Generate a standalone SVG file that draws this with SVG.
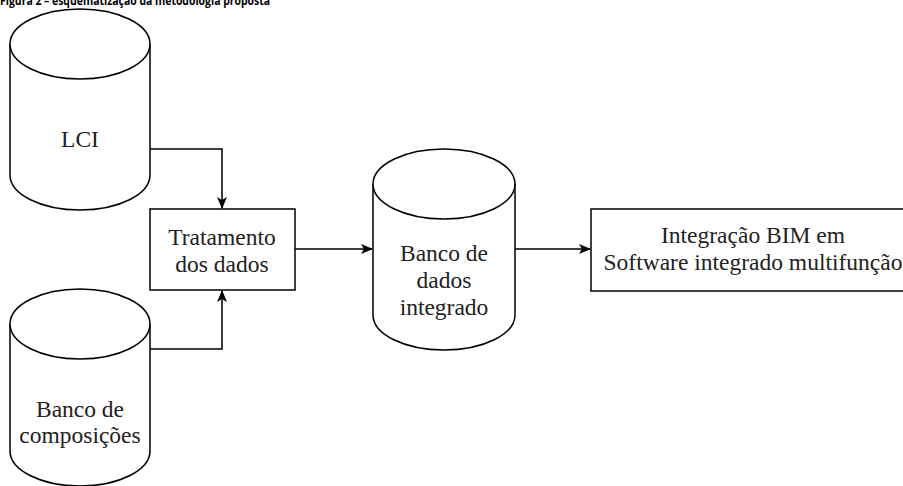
<svg xmlns="http://www.w3.org/2000/svg" width="903" height="486" viewBox="0 0 903 486">
  <style>
    .shape { fill: #ffffff; stroke: #000000; stroke-width: 1.5; }
    .label { font-family: "Liberation Serif", "Times New Roman", serif; font-size: 23.5px; fill: #222222; text-anchor: middle; }
    .title { font-family: "Open Sans", "Liberation Sans", sans-serif; font-size: 12px; font-weight: bold; fill: #000000; }
    .edge { fill: none; stroke: #000000; stroke-width: 1.5; }
  </style>
  <defs>
    <marker id="arrow" viewBox="0 0 12 10" refX="11" refY="5" markerWidth="12" markerHeight="10" markerUnits="userSpaceOnUse" orient="auto">
      <path d="M0,0 L12,5 L0,10 L3,5 Z" fill="#000000"/>
    </marker>
  </defs>
  <rect width="903" height="486" fill="#ffffff"/>

  <text class="title" x="0" y="5" textLength="270" lengthAdjust="spacingAndGlyphs">Figura 2 – esquematização da metodologia proposta</text>

  <g id="edges">
    <path class="edge" d="M150,149 H222 V208" marker-end="url(#arrow)"/>
    <path class="edge" d="M150,349 H222 V291" marker-end="url(#arrow)"/>
    <path class="edge" d="M295,249 H372" marker-end="url(#arrow)"/>
    <path class="edge" d="M515,249 H590" marker-end="url(#arrow)"/>
  </g>

  <g id="lci">
    <path class="shape" d="M10,44 A70,35 0 0 1 150,44 V175 A70,35 0 0 1 10,175 Z"/>
    <path class="shape" d="M10,44 A70,35 0 0 0 150,44" fill="none"/>
    <text class="label" x="80" y="147">LCI</text>
  </g>

  <g id="composicoes">
    <path class="shape" d="M10,324 A70,35 0 0 1 150,324 V451 A70,35 0 0 1 10,451 Z"/>
    <path class="shape" d="M10,324 A70,35 0 0 0 150,324" fill="none"/>
    <text class="label" x="80" y="417">Banco de</text>
    <text class="label" x="80" y="443">composições</text>
  </g>

  <g id="tratamento">
    <rect class="shape" x="150" y="209" width="145" height="81"/>
    <text class="label" x="222" y="245">Tratamento</text>
    <text class="label" x="222" y="272">dos dados</text>
  </g>

  <g id="banco-integrado">
    <path class="shape" d="M373,184 A71,35 0 0 1 515,184 V315 A71,35 0 0 1 373,315 Z"/>
    <path class="shape" d="M373,184 A71,35 0 0 0 515,184" fill="none"/>
    <text class="label" x="444" y="261">Banco de</text>
    <text class="label" x="444" y="288">dados</text>
    <text class="label" x="444" y="315">integrado</text>
  </g>

  <g id="integracao-bim">
    <rect class="shape" x="591" y="209" width="324" height="82"/>
    <text class="label" x="753" y="243">Integração BIM em</text>
    <text class="label" x="753" y="270">Software integrado multifunção</text>
  </g>
</svg>
